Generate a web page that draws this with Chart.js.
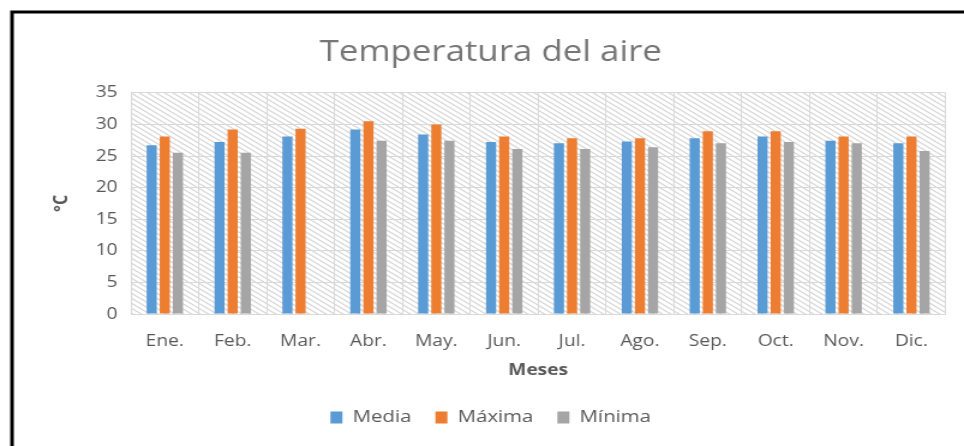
<!DOCTYPE html>
<html>
<head>
<meta charset="utf-8">
<script src="https://cdn.jsdelivr.net/npm/chart.js@4"></script>
<style>
  html, body { margin: 0; padding: 0; background: #fff; overflow: hidden; }
  #chart { display: block; }
</style>
</head>
<body>
<!-- el grafico original esta estirado en horizontal; se dibuja a 803 px y se muestra a 964 px -->
<canvas id="chart" width="803" height="446" style="width:964px;height:446px"></canvas>
<script>
// datos
const meses = ['Ene.', 'Feb.', 'Mar.', 'Abr.', 'May.', 'Jun.', 'Jul.', 'Ago.', 'Sep.', 'Oct.', 'Nov.', 'Dic.'];
const media  = [26.7, 27.2, 28.1, 29.2, 28.4, 27.2, 27.0, 27.3, 27.8, 28.1, 27.4, 27.0];
const maxima = [28.1, 29.2, 29.3, 30.5, 30.0, 28.1, 27.8, 27.8, 28.9, 28.9, 28.1, 28.1];
const minima = [25.5, 25.5, null, 27.4, 27.4, 26.1, 26.1, 26.4, 27.0, 27.2, 27.0, 25.8];
const yTicks = [0, 5, 10, 15, 20, 25, 30, 35];

const tickColor = '#595959';
const gridColor = '#d9d9d9';

// trama diagonal del area de trazado
function makeHatch() {
    const w = 7, h = 5;
    const c = document.createElement('canvas');
    c.width = w; c.height = h;
    const g = c.getContext('2d');
    g.fillStyle = '#fff';
    g.fillRect(0, 0, w, h);
    g.strokeStyle = '#d6d6d6';
    g.lineWidth = 1.1;
    g.beginPath();
    for (let k = -1; k <= 1; k++) {
        g.moveTo(k * w - w, -h);
        g.lineTo(k * w + 2 * w, 2 * h);
    }
    g.stroke();
    return g.createPattern(c, 'repeat');
}

const hatchPlugin = {
    id: 'hatch',
    beforeDraw(chart) {
        const {ctx, chartArea: a} = chart;
        ctx.save();
        ctx.fillStyle = '#fff';
        ctx.fillRect(0, 0, chart.width, chart.height);
        ctx.fillStyle = makeHatch();
        ctx.fillRect(a.left, a.top, a.right - a.left, a.bottom - a.top);
        ctx.restore();
    }
};

const framePlugin = {
    id: 'frame',
    afterDraw(chart) {
        const ctx = chart.ctx;
        ctx.save();
        ctx.strokeStyle = '#000';
        ctx.lineWidth = 3;
        ctx.beginPath();
        ctx.moveTo(10, chart.height);
        ctx.lineTo(10, 12);
        ctx.lineTo(chart.width, 12);
        ctx.stroke();
        ctx.restore();
    }
};

const ctx = document.getElementById('chart').getContext('2d');

new Chart(ctx, {
    type: 'bar',
    data: {
        labels: meses,
        datasets: [
            { label: 'Media', data: media, backgroundColor: '#5B9BD5' },
            { label: 'Máxima', data: maxima, backgroundColor: '#ED7D31' },
            { label: 'Mínima', data: minima, backgroundColor: '#A5A5A5' }
        ]
    },
    options: {
        responsive: false,
        animation: false,
        categoryPercentage: 0.58,
        barPercentage: 0.77,
        layout: { padding: { top: 30, left: 30, right: 15.5, bottom: 10 } },
        plugins: {
            title: {
                display: true,
                text: 'Temperatura del aire',
                color: '#767676',
                font: { family: 'Open Sans', size: 29, weight: 'normal' },
                padding: { top: 5, bottom: 23 }
            },
            legend: {
                position: 'bottom',
                labels: {
                    color: tickColor,
                    boxWidth: 10,
                    boxHeight: 12,
                    padding: 20,
                    font: { family: 'Open Sans', size: 17 }
                }
            },
            tooltip: { enabled: false }
        },
        scales: {
            x: {
                grid: { color: gridColor, drawTicks: false },
                border: { color: gridColor },
                ticks: { color: tickColor, padding: 18, font: { family: 'Open Sans', size: 16 } },
                title: {
                    display: true, text: 'Meses', color: tickColor,
                    font: { family: 'Open Sans', size: 16, weight: 'bold' },
                    padding: { top: 9, bottom: 9 }
                },
                afterFit(s) { s.height = 75; }
            },
            y: {
                min: 0, max: 35,
                grid: { color: gridColor, drawTicks: false },
                border: { color: gridColor },
                afterBuildTicks(s) { s.ticks = yTicks.map(v => ({ value: v })); },
                ticks: { color: tickColor, padding: 11, font: { family: 'Open Sans', size: 16 } },
                title: {
                    display: true, text: '°C', color: tickColor,
                    font: { family: 'Open Sans', size: 16, weight: 'bold' },
                    padding: { top: 12, bottom: 12 }
                },
                afterFit(s) { s.width = 79; }
            }
        }
    },
    plugins: [hatchPlugin, framePlugin]
});
</script>
</body>
</html>
